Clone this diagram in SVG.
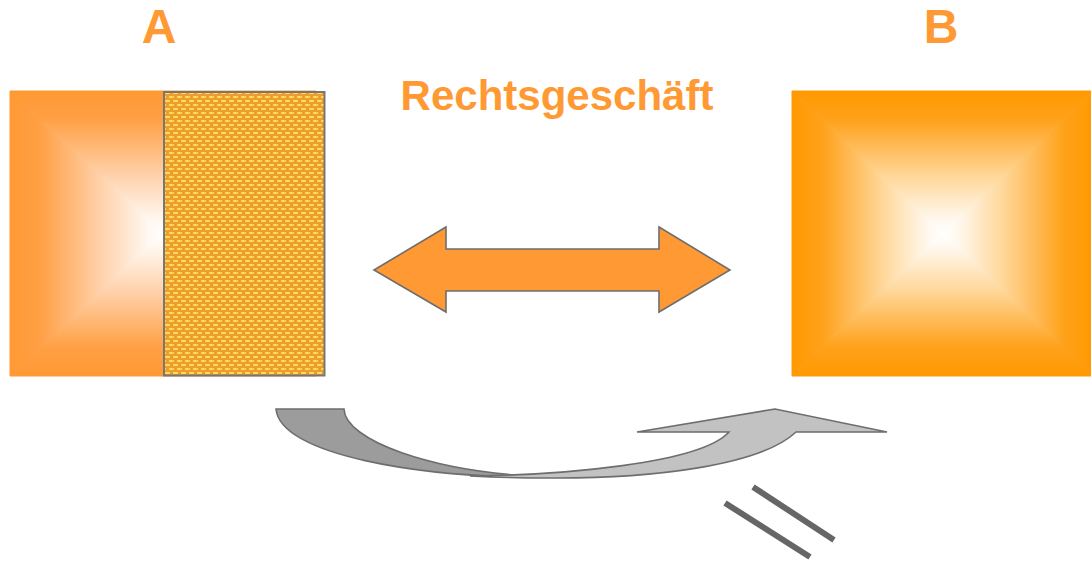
<svg xmlns="http://www.w3.org/2000/svg" width="1091" height="565" viewBox="0 0 1091 565">
<style>
.lbl{font-family:"Liberation Sans",Arial,sans-serif;font-weight:bold;fill:#FF9933;text-anchor:middle}
.conn{stroke:#6E6E6E;stroke-width:1.6;stroke-linejoin:miter}
</style>
<defs>
<linearGradient id="aL" gradientUnits="userSpaceOnUse" x1="10" y1="0" x2="163" y2="0">
<stop offset="0" stop-color="#FF9933"/><stop offset="0.2" stop-color="#FFA045"/><stop offset="0.6" stop-color="#FFD2AC"/><stop offset="0.9" stop-color="#FFF7F0"/><stop offset="1" stop-color="#FFFFFF"/>
</linearGradient>
<linearGradient id="aT" gradientUnits="userSpaceOnUse" x1="0" y1="91" x2="0" y2="233.5">
<stop offset="0" stop-color="#FF9933"/><stop offset="0.2" stop-color="#FFA045"/><stop offset="0.6" stop-color="#FFD2AC"/><stop offset="0.9" stop-color="#FFF7F0"/><stop offset="1" stop-color="#FFFFFF"/>
</linearGradient>
<linearGradient id="aB" gradientUnits="userSpaceOnUse" x1="0" y1="376" x2="0" y2="233.5">
<stop offset="0" stop-color="#FF9933"/><stop offset="0.2" stop-color="#FFA045"/><stop offset="0.6" stop-color="#FFD2AC"/><stop offset="0.9" stop-color="#FFF7F0"/><stop offset="1" stop-color="#FFFFFF"/>
</linearGradient>
<linearGradient id="bL" gradientUnits="userSpaceOnUse" x1="792" y1="0" x2="943" y2="0">
<stop offset="0" stop-color="#FF9900"/><stop offset="0.2" stop-color="#FFA11A"/><stop offset="0.6" stop-color="#FFD799"/><stop offset="0.9" stop-color="#FFF8EE"/><stop offset="1" stop-color="#FFFFFF"/>
</linearGradient>
<linearGradient id="bR" gradientUnits="userSpaceOnUse" x1="1094" y1="0" x2="943" y2="0">
<stop offset="0" stop-color="#FF9900"/><stop offset="0.2" stop-color="#FFA11A"/><stop offset="0.6" stop-color="#FFD799"/><stop offset="0.9" stop-color="#FFF8EE"/><stop offset="1" stop-color="#FFFFFF"/>
</linearGradient>
<linearGradient id="bT" gradientUnits="userSpaceOnUse" x1="0" y1="91" x2="0" y2="233.5">
<stop offset="0" stop-color="#FF9900"/><stop offset="0.2" stop-color="#FFA11A"/><stop offset="0.6" stop-color="#FFD799"/><stop offset="0.9" stop-color="#FFF8EE"/><stop offset="1" stop-color="#FFFFFF"/>
</linearGradient>
<linearGradient id="bB" gradientUnits="userSpaceOnUse" x1="0" y1="376" x2="0" y2="233.5">
<stop offset="0" stop-color="#FF9900"/><stop offset="0.2" stop-color="#FFA11A"/><stop offset="0.6" stop-color="#FFD799"/><stop offset="0.9" stop-color="#FFF8EE"/><stop offset="1" stop-color="#FFFFFF"/>
</linearGradient>
<pattern id="tex" patternUnits="userSpaceOnUse" x="164" y="91" width="8" height="8">
<rect width="8" height="8" fill="#EE9E2C"/>
<rect x="1" y="1" width="5" height="2" fill="#FFD04A"/>
<rect x="2" y="1.5" width="3" height="1" fill="#FFE980"/>
<rect x="5" y="5" width="5" height="2" fill="#FFD04A"/>
<rect x="-3" y="5" width="5" height="2" fill="#FFD04A"/>
<rect x="6" y="5.5" width="3" height="1" fill="#FFE980"/>
</pattern>
</defs>
<rect width="1091" height="565" fill="#FFFFFF"/>

<g id="label-A"><text class="lbl" x="159" y="43" font-size="48">A</text></g>
<g id="label-B"><text class="lbl" x="941" y="43" font-size="48">B</text></g>
<g id="label-rechtsgeschaeft"><text class="lbl" x="557" y="110" font-size="42">Rechtsgeschäft</text></g>

<g id="node-A">
<polygon points="10,91 10,376 163,233.5" fill="url(#aL)" stroke="url(#aL)" stroke-width="1"/>
<polygon points="10,91 316,91 163,233.5" fill="url(#aT)" stroke="url(#aT)" stroke-width="1"/>
<polygon points="10,376 316,376 163,233.5" fill="url(#aB)" stroke="url(#aB)" stroke-width="1"/>
<rect x="164" y="92" width="160.5" height="283.5" fill="url(#tex)" stroke="#777777" stroke-width="2"/>
</g>

<g id="node-B">
<polygon points="792,91 792,376 943,233.5" fill="url(#bL)" stroke="url(#bL)" stroke-width="1"/>
<polygon points="1094,91 1094,376 943,233.5" fill="url(#bR)" stroke="url(#bR)" stroke-width="1"/>
<polygon points="792,91 1094,91 943,233.5" fill="url(#bT)" stroke="url(#bT)" stroke-width="1"/>
<polygon points="792,376 1094,376 943,233.5" fill="url(#bB)" stroke="url(#bB)" stroke-width="1"/>
</g>

<g id="connectors">
<path id="double-arrow" class="conn" fill="#FF9933" stroke-width="2" d="M374,270 L446,227 L446,249 L659,249 L659,227 L730,270 L659,312 L659,291 L446,291 L446,312 Z"/>
<path id="curve-back" class="conn" fill="#9C9C9C" d="M276,409 L344,409 C345,440 430,472 545,477 C420,478 280,455 276,409 Z"/>
<path id="curve-front" class="conn" fill="#C2C2C2" d="M637,432 L775,409 L887,432 L796,432 C760,466 650,479 545,478 C510,478 490,477 470,476 C560,475 700,464 729,432 Z"/>
<line x1="725" y1="503" x2="810" y2="557" stroke="#666666" stroke-width="6"/>
<line x1="753" y1="487" x2="834" y2="540" stroke="#666666" stroke-width="6"/>
</g>
</svg>
